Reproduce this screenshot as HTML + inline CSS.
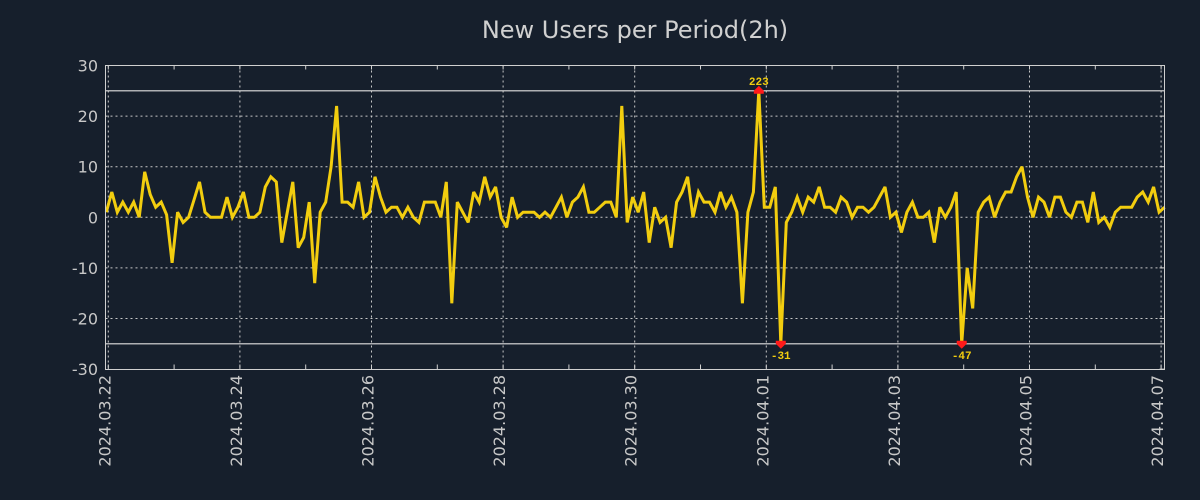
<!DOCTYPE html>
<html><head><meta charset="utf-8"><style>
html,body{margin:0;padding:0;background:#161f2c;}
svg{display:block;font-family:"DejaVu Sans","Liberation Sans",sans-serif;}
</style></head><body>
<svg id="chart" width="1200" height="500" viewBox="0 0 1200 500">
<rect x="0" y="0" width="1200" height="500" fill="#161f2c"/>
<text x="635" y="38" text-anchor="middle" font-size="24" fill="#d0d0d0">New Users per Period(2h)</text>
<g id="grid"></g><g id="plot"></g><g id="axes"></g>
</svg>
<script>
const values = [1,5,1,3,1,3,0,9,4.5,2,3,0.5,-9,1,-1,0,3.5,7,1,0,0,0,4,0,2,5,0,0,1,6,8,7,-5,1,7,-6,-4,3,-13,1,3,10,22,3,3,2,7,0,1,8,4,1,2,2,0,2,0,-1,3,3,3,0,7,-17,
3,1,-1,5,3,8,4,6,0,-2,4,0,1,1,1,0,1,0,2,4,0,3,4,6,1,1,2,3,3,0,22,-1,4,1,5,-5,2,-1,0,-6,3,5,8,0,5,3,3,1,5,2,4,1,-17,1,5,223,2,2,6,-31,-1,1,4,
1,4,3,6,2,2,1,4,3,0,2,2,1,2,4,6,0,1,-3,1,3,0,0,1,-5,2,0,2,5,-47,-10,-18,1,3,4,0,3,5,5,8,10,4,0,4,3,0,4,4,1,0,3,3,-1,5,-1,0,-2,1,2,2,2,4,5,3,6,1,2];
const xTickLabels = ["2024.03.22","2024.03.24","2024.03.26","2024.03.28","2024.03.30","2024.04.01","2024.04.03","2024.04.05","2024.04.07"];
const yTicks = [30,20,10,0,-10,-20,-30];
const clipLimits = [-25,25];
const startOffsetDays = -0.03;

const NS="http://www.w3.org/2000/svg";
const L=105.5,R=1164.5,T=65.5,B=369.5;
const day0X=108.3, pxPerDay=65.8;
const xDay=d=>day0X+d*pxPerDay;
const xIdx=i=>xDay(startOffsetDays+i/12);
const y=v=>217.3-v*5.06;
function mk(tag,attrs,parent){const e=document.createElementNS(NS,tag);for(const k in attrs)e.setAttribute(k,attrs[k]);parent.appendChild(e);return e;}
const grid=document.getElementById('grid'),plot=document.getElementById('plot'),axes=document.getElementById('axes');

const fr=mk('rect',{x:L,y:T,width:R-L,height:B-T,fill:'none',stroke:'#d0d0d0','stroke-width':1},axes);



yTicks.forEach(v=>{
  const yy=y(v);
  if(v>-30&&v<30){
    const g=mk('line',{x1:L,x2:R,y1:yy,y2:yy,stroke:'#c8c8c8','stroke-width':1,'stroke-dasharray':'2,3'},grid);
    
    
  }
  const t=mk('text',{x:98,y:yy+6,'text-anchor':'end','font-size':16,fill:'#c8c8c8'},axes);
  t.textContent=v;
  
  
  const tk=mk('line',{x1:R-5,x2:R,y1:yy,y2:yy,stroke:'#d0d0d0'},axes);
  
  
});
xTickLabels.forEach((lab,k)=>{
  const xx=xDay(k*2);
  const g=mk('line',{x1:xx,x2:xx,y1:T,y2:B,stroke:'#c8c8c8','stroke-width':1,'stroke-dasharray':'2,3'},grid);
  
  
  const t=mk('text',{x:0,y:0,'text-anchor':'end','font-size':16,fill:'#c8c8c8',transform:`translate(${xx+2},375) rotate(-90)`},axes);
  t.textContent=lab;
  
  
});
for(let d=0;d<=16;d++){
  const xx=xDay(d);
  const a=mk('line',{x1:xx,x2:xx,y1:B-5,y2:B,stroke:'#d0d0d0'},axes);
  
  
  const b=mk('line',{x1:xx,x2:xx,y1:T,y2:T+4,stroke:'#d0d0d0'},axes);
  
  
}
clipLimits.forEach(c=>{
  const l=mk('line',{x1:L,x2:R,y1:y(c),y2:y(c),stroke:'#e0e0e0','stroke-width':1.2},grid);
  
  
});
const clamp=v=>Math.max(clipLimits[0],Math.min(clipLimits[1],v));
const pts=values.map((v,i)=>xIdx(i).toFixed(1)+','+y(clamp(v)).toFixed(1)).join(' ');
const line=mk('polyline',{points:pts,fill:'none',stroke:'#f2cd0f','stroke-width':3,'stroke-linejoin':'miter','stroke-miterlimit':3},plot);


values.forEach((v,i)=>{
  const xx=xIdx(i);
  if(v>clipLimits[1]){
    const yy=y(clipLimits[1]);
    const m=mk('path',{d:`M${xx-5},${yy+3}L${xx+5},${yy+3}L${xx+5},${yy}L${xx},${yy-5}L${xx-5},${yy}Z`,fill:'#ff1a1a'},plot);
    
    
    const t=mk('text',{x:xx,y:yy-6,'text-anchor':'middle','font-size':11,'font-weight':'bold','font-family':'Liberation Mono, monospace',fill:'#f2cd0f'},plot);
    t.textContent=v;
    
    
  } else if(v<clipLimits[0]){
    const yy=y(clipLimits[0]);
    const m=mk('path',{d:`M${xx-5},${yy-3}L${xx+5},${yy-3}L${xx+5},${yy}L${xx},${yy+5}L${xx-5},${yy}Z`,fill:'#ff1a1a'},plot);
    
    
    const t=mk('text',{x:xx,y:yy+15,'text-anchor':'middle','font-size':11,'font-weight':'bold','font-family':'Liberation Mono, monospace',fill:'#f2cd0f'},plot);
    t.textContent=v;
    
    
  }
});
</script>
</body></html>
